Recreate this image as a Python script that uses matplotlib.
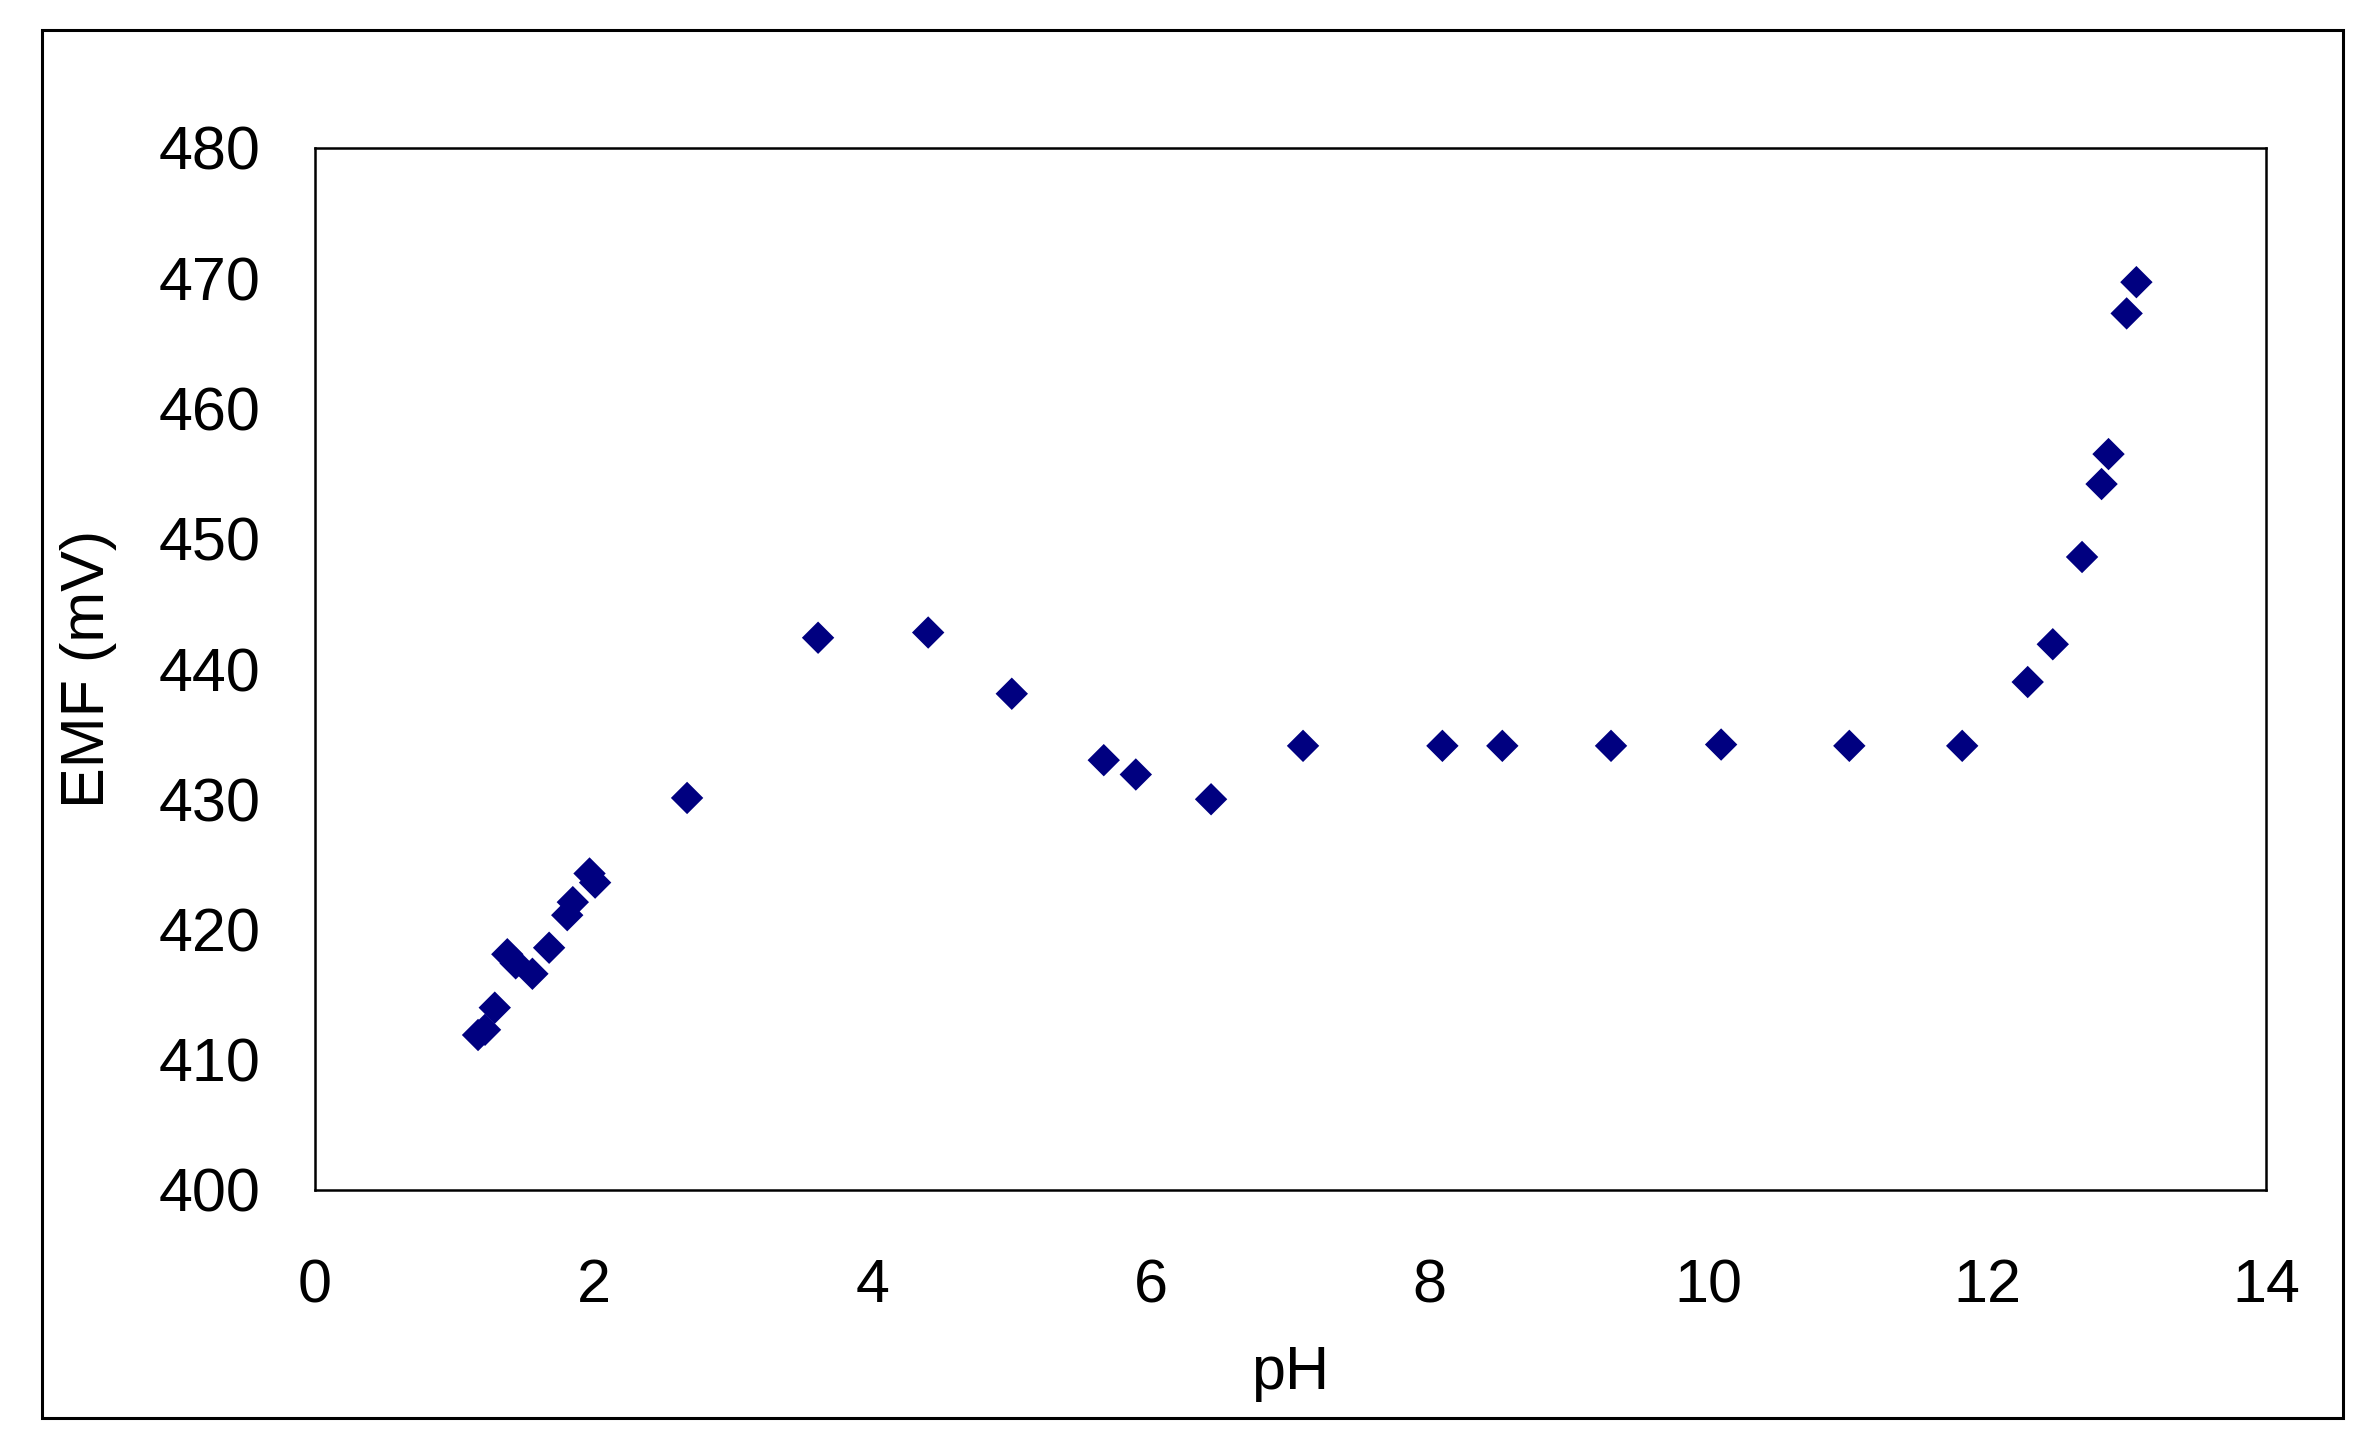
import matplotlib
matplotlib.use("Agg")
import matplotlib.pyplot as plt
from matplotlib.patches import Rectangle

plt.rcParams['font.family'] = ['Liberation Sans', 'DejaVu Sans']

# EMF readings against pH
ph = [1.17, 1.22, 1.29, 1.38, 1.44, 1.56, 1.68, 1.81, 1.85, 1.97, 2.01,
      2.67, 3.61, 4.40, 5.00, 5.66, 5.89, 6.43, 7.09, 8.09, 8.52, 9.30,
      10.09, 11.01, 11.82, 12.29, 12.47, 12.68, 12.82, 12.87, 13.00, 13.07]
emf = [411.9, 412.3, 414.0, 418.1, 417.4, 416.6, 418.6, 421.1, 422.1, 424.3, 423.6,
       430.1, 442.4, 442.8, 438.1, 433.0, 431.9, 430.0, 434.1, 434.1, 434.1, 434.1,
       434.2, 434.1, 434.1, 439.0, 441.9, 448.6, 454.2, 456.5, 467.3, 469.7]

x_ticks = [0, 2, 4, 6, 8, 10, 12, 14]
y_ticks = [400, 410, 420, 430, 440, 450, 460, 470, 480]

W, H = 2373, 1447
fig = plt.figure(figsize=(W / 100, H / 100), dpi=100)

# outer chart border
fig.patches.append(Rectangle((42 / W, 1 - 1418 / H), (2343 - 42) / W, (1418 - 30) / H,
                             transform=fig.transFigure, fill=False,
                             edgecolor='black', linewidth=2.2))

ax = fig.add_axes([315 / W, 1 - 1190 / H, (2266 - 315) / W, (1190 - 148) / H])
ax.scatter(ph, emf, marker='D', s=16.5 ** 2, color='#000080', edgecolors='none', zorder=3)

ax.set_xlim(0, 14)
ax.set_ylim(400, 480)
ax.set_xticks(x_ticks)
ax.set_yticks(y_ticks)
ax.tick_params(length=0, labelsize=44)
ax.tick_params(axis='x', pad=49)
ax.tick_params(axis='y', pad=39)
for sp in ax.spines.values():
    sp.set_linewidth(1.8)

ax.set_xlabel("pH", fontsize=44, va='center')
ax.xaxis.set_label_coords(0.5, (1190 - 1374) / (1190 - 148))
ax.set_ylabel("EMF (mV)", fontsize=44, va='center')
ax.yaxis.set_label_coords((88 - 315) / (2266 - 315), 0.5)

fig.savefig("out.png", dpi=100)
